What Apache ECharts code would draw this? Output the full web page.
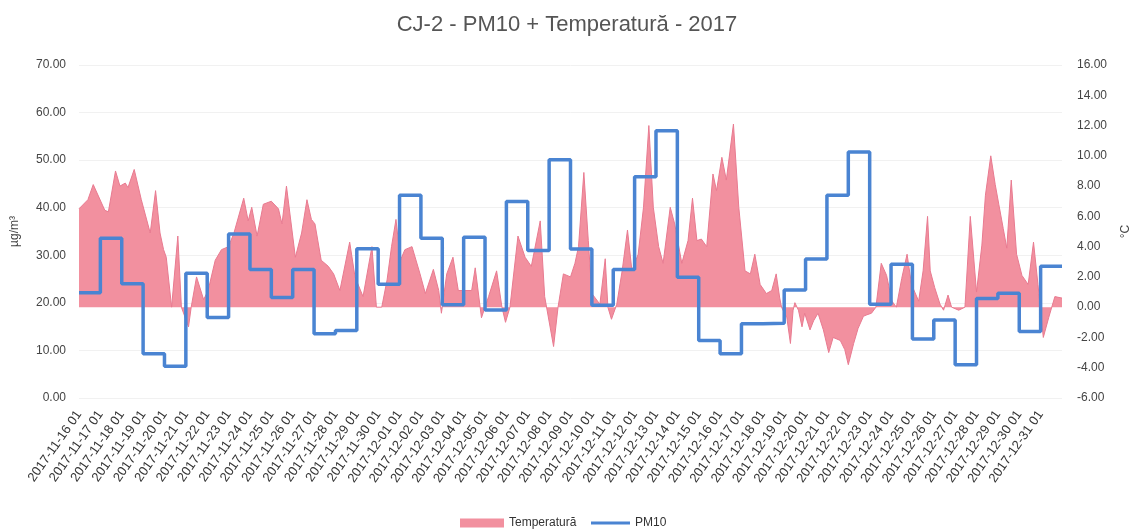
<!DOCTYPE html>
<html>
<head>
<meta charset="utf-8">
<script src="https://cdn.jsdelivr.net/npm/echarts@6/dist/echarts.min.js"></script>
<style>
  html, body { margin: 0; padding: 0; background: #fff; }
  #chart { width: 1134px; height: 532px; }
</style>
</head>
<body>
<div id="chart"></div>
<script>
'use strict';

// zile (eticheta la ora 01 a fiecarei zile)
const dayLabels = [
    '2017-11-16 01', '2017-11-17 01', '2017-11-18 01', '2017-11-19 01', '2017-11-20 01',
    '2017-11-21 01', '2017-11-22 01', '2017-11-23 01', '2017-11-24 01', '2017-11-25 01',
    '2017-11-26 01', '2017-11-27 01', '2017-11-28 01', '2017-11-29 01', '2017-11-30 01',
    '2017-12-01 01', '2017-12-02 01', '2017-12-03 01', '2017-12-04 01', '2017-12-05 01',
    '2017-12-06 01', '2017-12-07 01', '2017-12-08 01', '2017-12-09 01', '2017-12-10 01',
    '2017-12-11 01', '2017-12-12 01', '2017-12-13 01', '2017-12-14 01', '2017-12-15 01',
    '2017-12-16 01', '2017-12-17 01', '2017-12-18 01', '2017-12-19 01', '2017-12-20 01',
    '2017-12-21 01', '2017-12-22 01', '2017-12-23 01', '2017-12-24 01', '2017-12-25 01',
    '2017-12-26 01', '2017-12-27 01', '2017-12-28 01', '2017-12-29 01', '2017-12-30 01',
    '2017-12-31 01'
];

// PM10 medie zilnica, ug/m3
const pm10Daily = [
    22.1, 33.6, 24.0, 9.3, 6.7, 26.2, 16.9, 34.5, 27.0, 21.1,
    27.0, 13.5, 14.2, 31.4, 23.9, 42.6, 33.6, 19.6, 33.8, 18.5,
    41.3, 31.0, 50.1, 31.3, 19.5, 27.0, 46.5, 56.2, 25.4, 12.1,
    9.3, 15.6, 15.7, 22.7, 29.2, 42.6, 51.7, 19.7, 28.1, 12.4,
    16.4, 7.0, 20.9, 22.0, 14.0, 27.7
];

// temperatura: ore de la 2017-11-16 01 si valori in grade C
const tempHours = [
    0, 10, 16, 29, 33, 41, 46, 52, 55, 62, 70, 80, 86, 91, 95, 98, 104, 111, 115, 123,
    126, 132, 140, 145, 153, 160, 168, 174, 185, 190, 194, 200, 207, 216, 224, 228, 233, 243, 250, 256,
    261, 265, 272, 280, 286, 293, 304, 310, 319, 329, 334, 340, 346, 351, 356, 361, 366, 374, 383, 389,
    398, 404, 407, 413, 420, 426, 441, 445, 452, 460, 469, 475, 479, 484, 493, 501, 508, 518, 523, 533,
    538, 544, 552, 557, 561, 567, 572, 576, 585, 591, 594, 598, 604, 610, 616, 621, 628, 634, 640, 645,
    651, 656, 664, 669, 677, 684, 689, 694, 699, 705, 712, 716, 722, 727, 735, 741, 748, 754, 759, 765,
    772, 778, 783, 787, 789, 795, 799, 802, 804, 808, 812, 815, 821, 825, 830, 836, 842, 847, 855, 860,
    864, 870, 875, 881, 885, 890, 895, 901, 907, 913, 918, 924, 930, 935, 943, 948, 953, 956, 961, 967,
    971, 976, 980, 988, 995, 1001, 1008, 1014, 1018, 1024, 1029, 1033, 1038, 1042, 1047, 1053, 1059, 1066, 1072, 1077,
    1083, 1089, 1096, 1104
];
const tempValues = [
    6.5, 7.1, 8.1, 6.4, 6.3, 9.0, 8.0, 8.2, 7.9, 9.1, 7.1, 4.9, 7.7, 4.9, 3.8, 3.3, 0.0, 4.7, 0.0, -1.3,
    0.0, 2.0, 0.5, 1.1, 3.1, 3.8, 4.0, 4.9, 7.2, 5.7, 6.6, 4.7, 6.8, 7.0, 6.5, 5.5, 8.0, 3.3, 4.9, 7.1,
    5.8, 5.5, 3.1, 2.7, 2.2, 1.1, 4.3, 2.0, 0.7, 4.0, 0.0, 0.0, 1.8, 4.0, 5.8, 3.1, 3.8, 4.0, 2.2, 0.9,
    2.5, 1.1, -0.4, 2.2, 3.3, 1.1, 1.1, 2.6, -0.7, 0.7, 2.4, 0.0, -1.0, 0.0, 4.7, 3.3, 2.7, 5.7, 0.7, -2.6,
    0.0, 2.2, 2.0, 2.9, 4.0, 8.9, 4.4, 0.9, 0.2, 3.2, 0.0, -0.8, 0.2, 2.4, 5.1, 2.4, 3.5, 6.6, 12.0, 6.6,
    4.0, 2.9, 6.6, 5.5, 2.9, 4.4, 7.2, 4.4, 4.5, 4.0, 8.8, 7.7, 9.9, 8.4, 12.1, 6.6, 2.4, 2.2, 3.5, 1.5,
    0.9, 1.1, 2.2, 0.6, 0.0, -0.7, -2.4, -0.2, 0.3, -0.2, -1.3, -0.4, -1.5, -0.9, -0.4, -1.5, -3.0, -2.0, -2.2, -2.8,
    -3.8, -2.4, -1.4, -0.6, -0.5, -0.4, 0.0, 2.9, 2.1, 0.4, 0.0, 1.9, 3.5, 1.5, 0.4, 2.4, 6.0, 2.4, 1.3, 0.2,
    -0.2, 0.8, 0.0, -0.2, 0.0, 6.0, 1.0, 4.1, 7.4, 10.0, 8.1, 6.8, 5.2, 3.9, 8.4, 3.5, 2.1, 1.5, 4.3, 1.5,
    -2.0, -0.7, 0.7, 0.6
];

const leftTicks = { min: 0, max: 70, interval: 10 };
const rightTicks = { min: -6, max: 16, interval: 2 };

const hoursPerDay = 24;
const totalHours = dayLabels.length * hoursPerDay;

const fontName = 'Liberation Sans';
const pink = '#f2909f';
const blue = '#4a84d2';

// fiecare zi tine valoarea pana la inceputul zilei urmatoare
const genPm10Steps = () => {
    const pts = pm10Daily.map((v, i) => [i * hoursPerDay, v]);
    pts.push([totalHours, pm10Daily[pm10Daily.length - 1]]);
    return pts;
};

const genTemp = () => tempHours.map((h, i) => [h, tempValues[i]]);

const myChart = echarts.init(document.getElementById('chart'), null, { renderer: 'canvas' });

myChart.setOption({
    animation: false,
    textStyle: { fontFamily: fontName },
    title: {
        text: 'CJ-2 - PM10 + Temperatură - 2017',
        left: 'center',
        top: 9,
        textStyle: { fontFamily: fontName, fontSize: 22, fontWeight: 'normal', color: '#555' }
    },
    legend: [{
        data: [{ name: 'Temperatură', icon: 'rect' }],
        left: 455,
        top: 512,
        itemWidth: 44,
        itemHeight: 9,
        itemGap: 6,
        textStyle: { fontFamily: fontName, fontSize: 12, color: '#333' }
    }, {
        data: [{ name: 'PM10', icon: 'rect' }],
        left: 586,
        top: 512,
        itemWidth: 39,
        itemHeight: 3,
        textStyle: { fontFamily: fontName, fontSize: 12, color: '#333' }
    }],
    grid: { left: 79, right: 72, top: 65, bottom: 134, outerBoundsMode: 'none', containLabel: false },
    xAxis: {
        type: 'value',
        min: 0,
        max: totalHours,
        interval: hoursPerDay,
        axisLine: { show: false },
        axisTick: { show: false },
        splitLine: { show: false },
        axisLabel: {
            rotate: 55,
            margin: 14,
            fontSize: 13,
            color: '#333',
            formatter: (v) => dayLabels[Math.round(v / hoursPerDay)] || ''
        }
    },
    yAxis: [{
        type: 'value',
        min: leftTicks.min,
        max: leftTicks.max,
        interval: leftTicks.interval,
        name: 'µg/m³',
        nameLocation: 'middle',
        nameRotate: 90,
        nameGap: 58,
        nameTextStyle: { fontFamily: fontName, fontSize: 12, color: '#444' },
        axisLine: { show: false },
        axisTick: { show: false },
        splitLine: { lineStyle: { color: '#f1f1f1' } },
        axisLabel: { fontSize: 12, color: '#444', margin: 13, formatter: (v) => v.toFixed(2) }
    }, {
        type: 'value',
        min: rightTicks.min,
        max: rightTicks.max,
        interval: rightTicks.interval,
        name: '°C',
        nameLocation: 'middle',
        nameRotate: 90,
        nameGap: 58,
        nameTextStyle: { fontFamily: fontName, fontSize: 12, color: '#444' },
        axisLine: { show: false },
        axisTick: { show: false },
        splitLine: { show: false },
        axisLabel: { fontSize: 12, color: '#444', margin: 15, formatter: (v) => v.toFixed(2) }
    }],
    series: [{
        name: 'Temperatură',
        type: 'line',
        yAxisIndex: 1,
        data: genTemp(),
        symbol: 'none',
        lineStyle: { width: 1, color: '#e87a90' },
        itemStyle: { color: pink },
        areaStyle: { color: pink, opacity: 1 },
        z: 1
    }, {
        name: 'PM10',
        type: 'line',
        yAxisIndex: 0,
        data: genPm10Steps(),
        step: 'end',
        symbol: 'none',
        lineStyle: { width: 3.5, color: blue },
        itemStyle: { color: blue },
        z: 3
    }]
});
</script>
</body>
</html>
